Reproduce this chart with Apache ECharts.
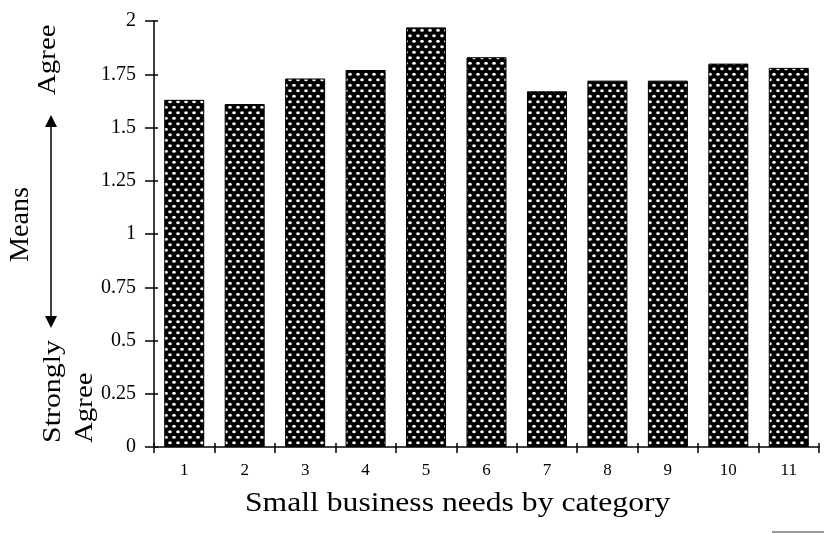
<!DOCTYPE html>
<html>
<head>
<meta charset="utf-8">
<style>
  html, body { margin: 0; padding: 0; background: #fff; }
  #chart { width: 824px; height: 533px; }
</style>
<script src="https://cdn.jsdelivr.net/npm/echarts@6/dist/echarts.min.js"></script>
</head>
<body>
<div id="chart"></div>
<script>
// Small business needs: mean agreement per category (0 = strongly agree, 2 = agree)
const categories = ['1', '2', '3', '4', '5', '6', '7', '8', '9', '10', '11'];
const means = [1.63, 1.61, 1.73, 1.77, 1.97, 1.83, 1.67, 1.72, 1.72, 1.80, 1.78];
const yTicks = [0, 0.25, 0.5, 0.75, 1, 1.25, 1.5, 1.75, 2];

const SERIF = '"Liberation Serif", "Times New Roman", serif';

// Black fill with a staggered lattice of white dots
function dotPattern() {
  const c = document.createElement('canvas');
  c.width = 8; c.height = 11;
  const g = c.getContext('2d');
  g.fillStyle = '#000';
  g.fillRect(0, 0, 8, 11);
  g.fillStyle = '#fff';
  [[2, 2.7], [6, 8.2]].forEach(([x, y]) => {
    g.beginPath();
    g.ellipse(x, y, 1.8, 1.5, 0, 0, Math.PI * 2);
    g.fill();
  });
  return c;
}

const chart = echarts.init(document.getElementById('chart'), null, { renderer: 'canvas' });

const fmtTick = v => (yTicks.includes(v) ? String(v) : '');

// vertical caption reading bottom-to-top
function sideText(text, x, y, size, stretch) {
  return {
    type: 'text',
    x: x, y: y,
    rotation: Math.PI / 2,
    scaleX: stretch,
    style: { text: text, font: size + 'px ' + SERIF, fill: '#000', verticalAlign: 'top', align: 'left' }
  };
}

chart.setOption({
  animation: false,
  backgroundColor: '#fff',
  grid: { left: 154, top: 21, right: 5, bottom: 86, containLabel: false },
  xAxis: [
    {
      type: 'category',
      data: categories,
      boundaryGap: true,
      axisLine: { lineStyle: { color: '#000', width: 1.5 } },
      axisTick: { show: true, length: 6, interval: 0, lineStyle: { color: '#000', width: 1.5 } },
      axisLabel: { color: '#000', fontFamily: SERIF, fontSize: 17, margin: 15, interval: 0 }
    },
    {
      type: 'category',
      data: categories,
      position: 'bottom',
      boundaryGap: true,
      axisLine: { show: false },
      axisTick: { show: true, inside: true, length: 4, interval: 0, lineStyle: { color: '#000', width: 1.5 } },
      axisLabel: { show: false }
    }
  ],
  yAxis: [
    {
      type: 'value',
      min: 0,
      max: 2,
      interval: 0.25,
      axisLine: { show: true, lineStyle: { color: '#000', width: 1.5 } },
      axisTick: { show: true, length: 9, lineStyle: { color: '#000', width: 1.5 } },
      axisLabel: { color: '#000', fontFamily: SERIF, fontSize: 20, margin: 18, formatter: fmtTick },
      splitLine: { show: false }
    },
    {
      type: 'value',
      min: 0,
      max: 2,
      interval: 0.25,
      position: 'left',
      axisLine: { show: false },
      axisTick: { show: true, inside: true, length: 4, lineStyle: { color: '#000', width: 1.5 } },
      axisLabel: { show: false },
      splitLine: { show: false }
    }
  ],
  series: [
    {
      type: 'bar',
      data: means,
      barWidth: 40,
      itemStyle: {
        color: { image: dotPattern(), repeat: 'repeat' },
        borderColor: '#000',
        borderWidth: 1
      }
    }
  ],
  graphic: [
    {
      type: 'text',
      x: 245, y: 490,
      scaleX: 1.13,
      style: { text: 'Small business needs by category', font: '28px ' + SERIF, fill: '#000', verticalAlign: 'top', align: 'left' }
    },
    sideText('Means', 7, 262, 27, 1.04),
    sideText('Agree', 35, 95, 26, 1.11),
    sideText('Strongly', 40, 443, 26, 1.15),
    sideText('Agree', 72, 443, 26, 1.11),
    // double-headed arrow between the two ends of the scale
    {
      type: 'line',
      shape: { x1: 51, y1: 125, x2: 51, y2: 318 },
      style: { stroke: '#000', lineWidth: 1.5 }
    },
    {
      type: 'polygon',
      shape: { points: [[51, 115], [45, 127], [57, 127]] },
      style: { fill: '#000' }
    },
    {
      type: 'polygon',
      shape: { points: [[51, 328], [45, 316], [57, 316]] },
      style: { fill: '#000' }
    },
    {
      type: 'line',
      shape: { x1: 772, y1: 532, x2: 824, y2: 532 },
      style: { stroke: '#999', lineWidth: 2 }
    }
  ]
});
</script>
</body>
</html>
